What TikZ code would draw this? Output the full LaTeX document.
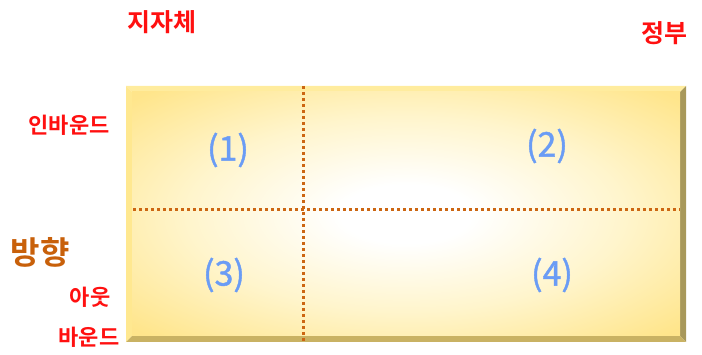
\documentclass[tikz,border=0pt]{standalone}
\usepackage{fontspec}
\newfontfamily\kr[FakeBold=1.2]{Noto Sans CJK KR}
\newfontfamily\krb{Noto Sans CJK KR Bold}
\definecolor{lblred}{HTML}{FF1010}
\definecolor{dirbrown}{HTML}{C8600A}
\definecolor{numblue}{HTML}{6A9CF5}
\definecolor{dotline}{HTML}{CC6612}
\definecolor{bevtop}{HTML}{FFEC9E}
\definecolor{bevleft}{HTML}{FFE890}
\definecolor{bevright}{HTML}{A8985A}
\definecolor{bevbot}{HTML}{C9B263}
\pgfdeclareradialshading{glow}{\pgfpoint{0bp}{0bp}}{rgb(0bp)=(1,1,1); rgb(6bp)=(1,1,1); rgb(20bp)=(1,0.96,0.80); rgb(34bp)=(1,0.90,0.55); rgb(50bp)=(1,0.88,0.47); rgb(75bp)=(1,0.87,0.45)}
\tikzset{
  x=1pt, y=-1pt,
  side/.style={font=\krb\fontsize{22}{22}\selectfont, text=lblred, inner sep=0pt},
  top/.style={font=\krb\fontsize{25}{25}\selectfont, text=lblred, inner sep=0pt},
  num/.style={font=\kr\fontsize{34}{34}\selectfont, text=numblue, inner sep=0pt},
  divider/.style={draw=dotline, line width=3pt, dash pattern=on 3pt off 3pt},
}
\begin{document}
\begin{tikzpicture}
\useasboundingbox (0,0) rectangle (702,355);
% bevel
\fill[bevtop] (126,86) -- (686,86) -- (680,92) -- (132,92) -- cycle;
\fill[bevleft] (126,86) -- (132,92) -- (132,336) -- (126,342) -- cycle;
\fill[bevright] (686,86) -- (686,342) -- (680,336) -- (680,92) -- cycle;
\fill[bevbot] (126,342) -- (686,342) -- (680,336) -- (132,336) -- cycle;
% face
\shade[shading=glow] (132,92) rectangle (680,336);
% dividers
\coordinate (vt) at (303,86);
\coordinate (vb) at (303,342);
\coordinate (hl) at (133,210);
\coordinate (hr) at (680,210);
\draw[divider] (vt) -- (vb);
\draw[divider] (hl) -- (hr);
% numbers
\node[num] (n1) at (228,150) {(1)};
\node[num] (n2) at (547,146) {(2)};
\node[num] (n3) at (224,275) {(3)};
\node[num] (n4) at (552,275) {(4)};
% labels
\node[top] (local) at (162,22) {지자체};
\node[top] (gov) at (664,33) {정부};
\node[side] (inb) at (69,125) {인바운드};
\node[font=\krb\fontsize{32}{32}\selectfont, text=dirbrown, inner sep=0pt] (dir) at (40,252) {방향};
\node[side] (out1) at (90,297) {아웃};
\node[side] (out2) at (89,337) {바운드};
\end{tikzpicture}
\end{document}
